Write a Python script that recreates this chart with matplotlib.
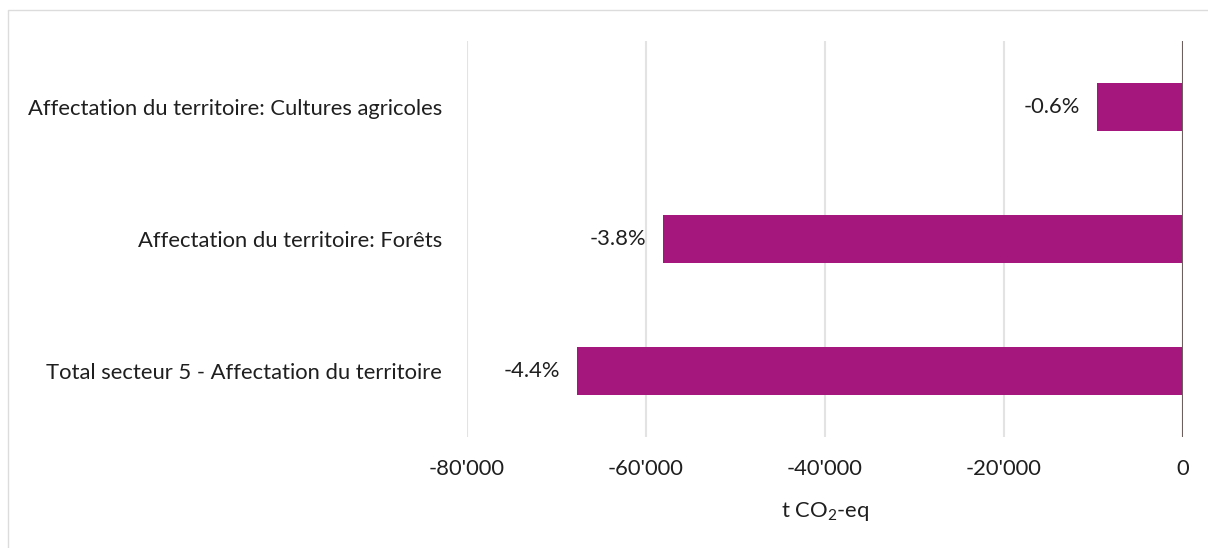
import matplotlib.pyplot as plt
from matplotlib.patches import Rectangle
from matplotlib.ticker import FuncFormatter

categories = [
    "Affectation du territoire: Cultures agricoles",
    "Affectation du territoire: Forêts",
    "Total secteur 5 - Affectation du territoire",
]
values = [-9600, -58100, -67700]
pct_labels = ["-0.6%", "-3.8%", "-4.4%"]
x_ticks = [-80000, -60000, -40000, -20000, 0]

bar_color = "#A6177E"
text_color = "#1f1f1f"
fs = 15.8

plt.rcParams["font.family"] = ["Lato", "DejaVu Sans"]
plt.rcParams["mathtext.fontset"] = "custom"
plt.rcParams["mathtext.rm"] = "Lato"
plt.rcParams["mathtext.it"] = "Lato:italic"

fig = plt.figure(figsize=(12.08, 5.48), dpi=100)
ax = fig.add_axes([0.3866, 0.2026, 0.9793 - 0.3866, 0.925 - 0.2026])

# light frame of the chart area (only top/left visible in the crop)
fig.patches.append(Rectangle((8 / 1208, -0.1), 1.2, (548 - 10) / 548 + 0.1,
                             transform=fig.transFigure, fill=False,
                             edgecolor="#DCDCDC", linewidth=1))

ypos = list(range(len(categories)))
ax.barh(ypos, values, height=0.36, color=bar_color, zorder=2)

for y, v, lab in zip(ypos, values, pct_labels):
    ax.annotate(lab, (v, y), xytext=(-12, 0), textcoords="offset points",
                ha="right", va="center", fontsize=fs, color=text_color)

ax.set_xlim(-80000, 0)
ax.set_ylim(len(categories) - 0.5, -0.5)
ax.set_xticks(x_ticks)
ax.xaxis.set_major_formatter(FuncFormatter(lambda v, p: f"{int(v):,}".replace(",", "'")))
ax.set_yticks(ypos)
ax.set_yticklabels(categories)
ax.tick_params(axis="both", length=0, labelsize=fs, labelcolor=text_color)
ax.tick_params(axis="x", pad=16)
ax.tick_params(axis="y", pad=18)

ax.grid(axis="x", color="#E3E3E3", linewidth=1.5, zorder=0)
ax.axvline(0, color="#6E5F5F", linewidth=1.5, zorder=3)
for s in ax.spines.values():
    s.set_visible(False)

ax.set_xlabel("t CO$_2$-eq", fontsize=fs, color=text_color, labelpad=15)

fig.savefig("out.png", dpi=100)
